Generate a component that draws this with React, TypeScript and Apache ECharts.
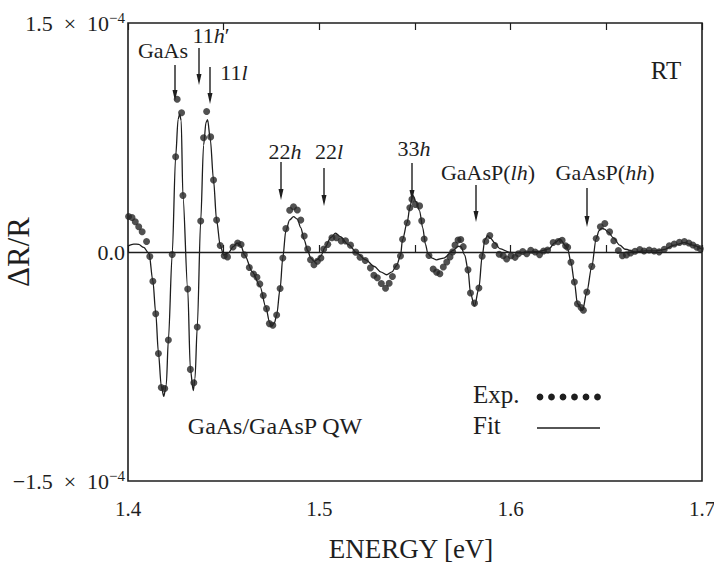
import React, { useEffect, useRef } from "react";
import * as echarts from "echarts";

// Experimental ΔR/R (units of 1e-4) vs photon energy (eV)
const energyExp = [
  1.4003, 1.4021, 1.4038, 1.4056, 1.4074, 1.4097, 1.4114, 1.4130, 1.4145, 1.4159,
  1.4174, 1.4192, 1.4211, 1.4231, 1.4249, 1.4257, 1.4280, 1.4287, 1.4312, 1.4326,
  1.4344, 1.4362, 1.4380, 1.4395, 1.4411, 1.4432, 1.4447, 1.4463, 1.4482, 1.4503,
  1.4520, 1.4549, 1.4573, 1.4591, 1.4608, 1.4634, 1.4656, 1.4674, 1.4689, 1.4707,
  1.4724, 1.4739, 1.4757, 1.4777, 1.4795, 1.4809, 1.4825, 1.4845, 1.4865, 1.4885,
  1.4903, 1.4921, 1.4939, 1.4954, 1.4972, 1.4990, 1.5008, 1.5023, 1.5044, 1.5066,
  1.5089, 1.5114, 1.5137, 1.5163, 1.5190, 1.5213, 1.5240, 1.5267, 1.5285, 1.5303,
  1.5324, 1.5346, 1.5365, 1.5382, 1.5403, 1.5424, 1.5435, 1.5459, 1.5473, 1.5484,
  1.5502, 1.5524, 1.5535, 1.5548, 1.5573, 1.5595, 1.5613, 1.5630, 1.5648, 1.5666,
  1.5683, 1.5697, 1.5709, 1.5725, 1.5739, 1.5752, 1.5777, 1.5790, 1.5811, 1.5834,
  1.5851, 1.5870, 1.5891, 1.5917, 1.5940, 1.5961, 1.5979, 1.6002, 1.6023, 1.6040,
  1.6063, 1.6084, 1.6105, 1.6128, 1.6151, 1.6172, 1.6193, 1.6222, 1.6248, 1.6269,
  1.6287, 1.6298, 1.6315, 1.6333, 1.6349, 1.6368, 1.6380, 1.6398, 1.6424, 1.6447,
  1.6469, 1.6492, 1.6517, 1.6539, 1.6563, 1.6584, 1.6605, 1.6627, 1.6650, 1.6675,
  1.6697, 1.6724, 1.6750, 1.6776, 1.6803, 1.6829, 1.6855, 1.6882, 1.6908, 1.6931,
  1.6952, 1.6973, 1.6991,
];
const drExp = [
  0.233, 0.226, 0.198, 0.165, 0.133, 0.069, -0.029, -0.192, -0.405, -0.665,
  -0.887, -0.894, -0.576, -0.016, 0.624, 1.000, 0.912, 0.370, -0.242, -0.769,
  -0.857, -0.491, 0.203, 0.748, 0.920, 0.754, 0.471, 0.209, 0.043, -0.025,
  -0.032, 0.033, 0.059, 0.049, -0.019, -0.102, -0.144, -0.166, -0.209, -0.285,
  -0.371, -0.469, -0.480, -0.413, -0.239, -0.039, 0.153, 0.274, 0.296, 0.275,
  0.209, 0.105, 0.019, -0.051, -0.083, -0.061, -0.039, 0.020, 0.050, 0.093,
  0.094, 0.073, 0.073, 0.045, -0.001, -0.034, -0.056, -0.104, -0.152, -0.169,
  -0.206, -0.238, -0.205, -0.161, -0.095, -0.026, 0.083, 0.192, 0.290, 0.345,
  0.312, 0.302, 0.204, 0.085, -0.023, -0.111, -0.132, -0.143, -0.098, -0.065,
  -0.033, 0.001, 0.045, 0.078, 0.082, 0.035, -0.117, -0.269, -0.335, -0.236,
  -0.028, 0.070, 0.108, 0.043, -0.015, -0.025, -0.046, -0.024, -0.035, -0.012,
  0.003, -0.011, 0.011, 0.000, -0.017, 0.006, 0.013, 0.062, 0.068, 0.077,
  0.041, 0.031, -0.067, -0.197, -0.339, -0.364, -0.382, -0.262, -0.094, 0.088,
  0.165, 0.187, 0.132, 0.074, 0.010, -0.025, -0.019, -0.006, 0.005, 0.016,
  0.006, 0.013, 0.007, 0.001, 0.018, 0.041, 0.052, 0.063, 0.068, 0.059,
  0.046, 0.031, 0.021,
];

// Line-shape fit
const energyFit = [
  1.4000, 1.4030, 1.4056, 1.4082, 1.4110, 1.4130, 1.4145, 1.4159, 1.4174, 1.4187,
  1.4200, 1.4211, 1.4231, 1.4249, 1.4262, 1.4270, 1.4278, 1.4287, 1.4312, 1.4326,
  1.4341, 1.4350, 1.4362, 1.4380, 1.4395, 1.4408, 1.4416, 1.4430, 1.4447, 1.4463,
  1.4482, 1.4500, 1.4525, 1.4550, 1.4570, 1.4590, 1.4610, 1.4650, 1.4690, 1.4720,
  1.4740, 1.4751, 1.4765, 1.4777, 1.4795, 1.4809, 1.4825, 1.4845, 1.4865, 1.4885,
  1.4903, 1.4921, 1.4939, 1.4955, 1.4973, 1.4990, 1.5008, 1.5030, 1.5060, 1.5085,
  1.5110, 1.5150, 1.5200, 1.5240, 1.5288, 1.5320, 1.5352, 1.5380, 1.5403, 1.5424,
  1.5435, 1.5459, 1.5473, 1.5488, 1.5505, 1.5524, 1.5540, 1.5555, 1.5567, 1.5590,
  1.5612, 1.5650, 1.5700, 1.5725, 1.5740, 1.5760, 1.5777, 1.5790, 1.5811, 1.5834,
  1.5851, 1.5865, 1.5879, 1.5895, 1.5917, 1.5943, 1.5996, 1.6050, 1.6100, 1.6150,
  1.6200, 1.6230, 1.6257, 1.6287, 1.6298, 1.6315, 1.6333, 1.6349, 1.6376, 1.6398,
  1.6424, 1.6447, 1.6462, 1.6475, 1.6490, 1.6510, 1.6537, 1.6570, 1.6599, 1.6650,
  1.6700, 1.6750, 1.6800, 1.6855, 1.6908, 1.6952, 1.7000,
];
const drFit = [
  0.040, 0.052, 0.050, 0.030, -0.010, -0.190, -0.400, -0.660, -0.880, -0.945,
  -0.870, -0.576, -0.016, 0.624, 0.870, 0.905, 0.860, 0.370, -0.242, -0.769,
  -0.908, -0.830, -0.491, 0.203, 0.700, 0.850, 0.867, 0.740, 0.471, 0.209,
  0.043, -0.020, -0.005, 0.035, 0.059, 0.040, -0.020, -0.130, -0.225, -0.360,
  -0.460, -0.487, -0.465, -0.413, -0.239, -0.039, 0.140, 0.210, 0.232, 0.215,
  0.160, 0.080, 0.010, -0.040, -0.061, -0.050, -0.025, 0.030, 0.095, 0.124,
  0.100, 0.050, -0.010, -0.050, -0.095, -0.130, -0.149, -0.130, -0.090, -0.026,
  0.083, 0.192, 0.290, 0.372, 0.330, 0.270, 0.160, 0.050, -0.010, -0.040,
  -0.051, -0.040, 0.010, 0.037, 0.035, -0.020, -0.117, -0.269, -0.355, -0.236,
  -0.028, 0.080, 0.107, 0.090, 0.060, 0.022, -0.003, -0.005, 0.000, 0.005,
  0.020, 0.060, 0.085, 0.041, 0.020, -0.067, -0.197, -0.339, -0.382, -0.262,
  -0.094, 0.088, 0.140, 0.157, 0.150, 0.130, 0.093, 0.045, 0.018, 0.000,
  0.008, 0.007, 0.015, 0.045, 0.062, 0.045, 0.018,
];

const xTicks = [1.4, 1.5, 1.6, 1.7];

// Annotation arrows: label, tail/tip pixel positions (from the figure)
const annoLabels = ["GaAs", "11{i|h}′", "11{i|l}", "22{i|h}", "22{i|l}", "33{i|h}", "GaAsP({i|lh})", "GaAsP({i|hh})"];
const annoLabelPos = [[163, 50], [211, 35], [234, 72], [285, 151], [329, 151], [414, 148], [488, 172], [605, 172]];
const annoArrows = [[175, 65, 101], [199, 48, 85], [210, 67, 104], [281, 162, 200], [324, 168, 206], [412, 163, 201], [476, 185, 222], [587, 188, 227]];

const FONT = "Liberation Serif";
const INK = "#1e1e1e";

function arrow(x: number, y1: number, y2: number) {
  return {
    type: "group",
    silent: true,
    children: [
      { type: "line", shape: { x1: x, y1, x2: x, y2: y2 - 8 }, style: { stroke: INK, lineWidth: 1.4 } },
      { type: "polygon", shape: { points: [[x - 2.5, y2 - 11], [x + 2.5, y2 - 11], [x, y2]] }, style: { fill: INK } },
    ],
  };
}

export default function App() {
  const ref = useRef<HTMLDivElement>(null);
  useEffect(() => {
    if (!ref.current) return;
    const chart = echarts.init(ref.current, null, { renderer: "svg" });
    const expData = energyExp.map((e, i) => [e, drExp[i]]);
    const fitData = energyFit.map((e, i) => [e, drFit[i]]);
    const rich = { i: { fontStyle: "italic", fontFamily: FONT, fontSize: 22, fill: INK } };

    const graphics: any[] = [];
    annoArrows.forEach((a) => graphics.push(arrow(a[0], a[1], a[2])));
    annoLabels.forEach((t, k) =>
      graphics.push({
        type: "text",
        x: annoLabelPos[k][0],
        y: annoLabelPos[k][1],
        silent: true,
        style: { text: t, rich, font: `22px '${FONT}'`, fill: INK, align: "center", verticalAlign: "middle" },
      })
    );
    graphics.push(
      { type: "text", x: 666, y: 70, style: { text: "RT", font: `25px '${FONT}'`, fill: INK, align: "center", verticalAlign: "middle" } },
      { type: "text", x: 275, y: 426, style: { text: "GaAs/GaAsP QW", font: `24px '${FONT}'`, fill: INK, align: "center", verticalAlign: "middle" } },
      { type: "text", x: 473, y: 394, style: { text: "Exp.", font: `25px '${FONT}'`, fill: INK, align: "left", verticalAlign: "middle" } },
      { type: "text", x: 473, y: 425, style: { text: "Fit", font: `25px '${FONT}'`, fill: INK, align: "left", verticalAlign: "middle" } },
      { type: "line", shape: { x1: 537, y1: 428, x2: 600, y2: 428 }, style: { stroke: INK, lineWidth: 1.3 } }
    );
    [0, 1, 2, 3, 4, 5].forEach((k) =>
      graphics.push({ type: "circle", shape: { cx: 540 + k * 11.5, cy: 397, r: 3.4 }, style: { fill: INK } })
    );

    chart.setOption({
      animation: false,
      backgroundColor: "#ffffff",
      grid: {
        left: 128, right: 12, top: 23, bottom: 90,
        containLabel: false, outerBoundsMode: "none",
        show: true, borderColor: INK, borderWidth: 1.6, backgroundColor: "transparent",
      },
      xAxis: [
        {
          type: "value",
          min: 1.4,
          max: 1.7,
          interval: 0.05,
          position: "bottom",
          name: "ENERGY [eV]",
          nameLocation: "middle",
          nameGap: 54,
          nameMoveOverlap: false,
          nameTextStyle: { fontFamily: FONT, fontSize: 27, color: INK, padding: [0, 8, 0, 0] },
          axisLine: { show: false },
          axisTick: { show: true, inside: true, length: 7, lineStyle: { color: INK, width: 1.2 } },
          splitLine: { show: false },
          axisLabel: {
            margin: 17,
            fontFamily: FONT,
            fontSize: 21,
            color: INK,
            formatter: (v: number) => {
              const hit = xTicks.find((t) => Math.abs(t - v) < 1e-6);
              return hit !== undefined ? hit.toFixed(1) : "";
            },
          },
        },
        {
          type: "value",
          min: 1.4,
          max: 1.7,
          interval: 0.05,
          position: "top",
          axisLine: { show: false },
          axisTick: { show: true, inside: true, length: 7, lineStyle: { color: INK, width: 1.2 } },
          axisLabel: { show: false },
          splitLine: { show: false },
        },
      ],
      yAxis: {
        type: "value",
        min: -1.5,
        max: 1.5,
        interval: 1.5,
        name: "ΔR/R",
        nameLocation: "middle",
        nameGap: 94,
        nameRotate: 90,
        nameMoveOverlap: false,
        nameTextStyle: { fontFamily: FONT, fontSize: 31, color: INK },
        axisLine: { show: false },
        axisTick: { show: false },
        splitLine: { show: false },
        axisLabel: {
          margin: 3,
          fontFamily: FONT,
          fontSize: 22,
          color: INK,
          formatter: (v: number) => {
            if (Math.abs(v) < 1e-9) return "0.0";
            return (v < 0 ? "−" : "") + Math.abs(v).toFixed(1) + "\u2002×\u200210{sup|−4}";
          },
          rich: {
            sup: { fontFamily: FONT, fontSize: 15, color: INK, verticalAlign: "top", padding: [0, 0, 10, 0] },
          },
        },
      },
      series: [
        {
          name: "Fit",
          type: "line",
          data: fitData,
          showSymbol: false,
          smooth: 0.3,
          smoothMonotone: "x",
          lineStyle: { color: INK, width: 1.3 },
          silent: true,
          z: 2,
          markLine: {
            silent: true,
            symbol: ["none", "none"],
            label: { show: false },
            lineStyle: { color: INK, width: 1.3, type: "solid" },
            data: [{ yAxis: 0 }],
          },
        },
        {
          name: "Exp.",
          type: "scatter",
          data: expData,
          symbol: "circle",
          symbolSize: 7,
          itemStyle: { color: "#262626" },
          silent: true,
          z: 3,
        },
      ],
      graphic: graphics,
    });
    return () => chart.dispose();
  }, []);
  return <div ref={ref} style={{ width: 714, height: 571, position: "absolute", left: 0, top: 0 }} />;
}
